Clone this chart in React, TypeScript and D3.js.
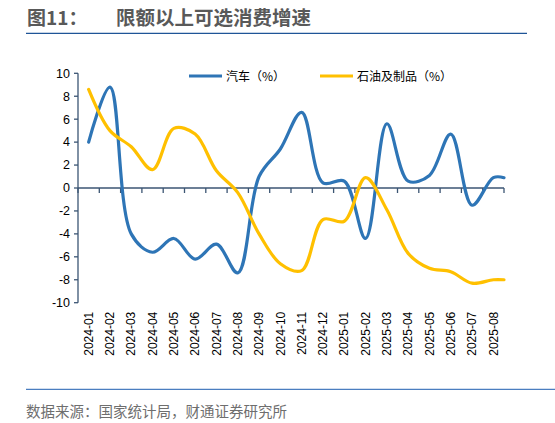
import { useEffect, useRef } from 'react';
import * as d3 from 'd3';

const months = [
  '2024-01', '2024-02', '2024-03', '2024-04', '2024-05', '2024-06', '2024-07', '2024-08',
  '2024-09', '2024-10', '2024-11', '2024-12', '2025-01', '2025-02', '2025-03', '2025-04',
  '2025-05', '2025-06', '2025-07', '2025-08',
];

// 汽车 (%)
const autoValues = [4.0, 8.8, -4.0, -5.6, -4.4, -6.2, -4.9, -7.4, 1.0, 3.4, 6.6, 0.45, 0.6, -4.4, 5.6, 0.6, 1.1, 4.7, -1.5, 0.9];
// 石油及制品 (%)
const oilValues = [8.6, 5.0, 3.6, 1.6, 5.2, 4.7, 1.5, -0.4, -4.0, -6.6, -7.2, -2.75, -2.9, 0.9, -1.9, -5.7, -7.0, -7.3, -8.3, -8.0];

const yTicks = [-10, -8, -6, -4, -2, 0, 2, 4, 6, 8, 10];

const seriesNames = ['汽车（%）', '石油及制品（%）'];
const colors = ['#2E75B6', '#FFC000'];

const FONT = "'Liberation Sans', Arial, 'Noto Sans CJK SC', sans-serif";
const CJK = "'Noto Sans CJK SC', sans-serif";

export default function App() {
  const svgRef = useRef<SVGSVGElement>(null);

  useEffect(() => {
    if (!svgRef.current) return;
    const width = 555;
    const height = 423;
    const svg = d3.select(svgRef.current).attr('width', width).attr('height', height);
    svg.selectAll('*').remove();

    const plot = { left: 78, right: 504, top: 73.3, bottom: 302.7 };

    const x = d3.scaleBand().domain(months).range([plot.left, plot.right]).padding(0);
    const y = d3.scaleLinear().domain([-10, 10]).range([plot.bottom, plot.top]);
    const axisColor = '#3B5573';

    // Title
    svg.append('text')
      .attr('x', 27).attr('y', 25)
      .style('font-family', CJK).style('font-weight', 'bold').style('font-size', '19px')
      .attr('fill', '#595959').text('图11：');
    svg.append('text')
      .attr('x', 116).attr('y', 25)
      .style('font-family', CJK).style('font-weight', 'bold').style('font-size', '19.5px')
      .attr('fill', '#595959').text('限额以上可选消费增速');
    svg.append('line')
      .attr('x1', 26).attr('x2', 527).attr('y1', 33.3).attr('y2', 33.3)
      .attr('stroke', '#1F5597').attr('stroke-width', 1.3);

    // Y axis
    const yAxis = svg.append('g');
    yAxis.append('line')
      .attr('x1', plot.left).attr('x2', plot.left)
      .attr('y1', y(10)).attr('y2', y(-10))
      .attr('stroke', axisColor).attr('stroke-width', 1.3);
    yTicks.forEach((t) => {
      yAxis.append('line')
        .attr('x1', plot.left - 4).attr('x2', plot.left)
        .attr('y1', y(t)).attr('y2', y(t))
        .attr('stroke', axisColor).attr('stroke-width', 1.3);
      yAxis.append('text')
        .attr('x', plot.left - 8).attr('y', y(t)).attr('dy', '0.35em')
        .attr('text-anchor', 'end')
        .style('font-family', FONT).style('font-size', '12.5px')
        .attr('fill', '#000').text(t);
    });

    // X axis along zero
    const xAxis = svg.append('g');
    xAxis.append('line')
      .attr('x1', plot.left).attr('x2', plot.right)
      .attr('y1', y(0)).attr('y2', y(0))
      .attr('stroke', axisColor).attr('stroke-width', 1.3);
    const tickXs = months.map((m) => x(m) as number).concat([plot.right]);
    tickXs.forEach((tx) => {
      xAxis.append('line')
        .attr('x1', tx).attr('x2', tx)
        .attr('y1', y(0)).attr('y2', y(0) + 5)
        .attr('stroke', axisColor).attr('stroke-width', 1.3);
    });
    months.forEach((m) => {
      const cx = (x(m) as number) + x.bandwidth() / 2;
      xAxis.append('text')
        .attr('transform', `translate(${cx},${plot.bottom + 9}) rotate(-90)`)
        .attr('dy', '0.35em')
        .attr('text-anchor', 'end')
        .style('font-family', FONT).style('font-size', '12px')
        .attr('fill', '#000').text(m);
    });

    // Lines
    const line = d3.line<[number, number]>()
      .x((d) => d[0]).y((d) => d[1])
      .curve(d3.curveCatmullRom.alpha(0.5));

    [autoValues, oilValues].forEach((vals, i) => {
      const pts: [number, number][] = vals.map((v, j) => [
        (x(months[j]) as number) + x.bandwidth() / 2,
        y(v),
      ]);
      // line runs flat to the end of the axis
      pts.push([plot.right, y(vals[vals.length - 1])]);
      svg.append('path')
        .attr('d', line(pts))
        .attr('fill', 'none')
        .attr('stroke', colors[i])
        .attr('stroke-width', 3.2)
        .attr('stroke-linejoin', 'round')
        .attr('stroke-linecap', 'round');
    });

    // Legend
    const legendX = [189, 320];
    seriesNames.forEach((name, i) => {
      const g = svg.append('g').attr('transform', `translate(${legendX[i]},76)`);
      g.append('line')
        .attr('x1', 0).attr('x2', 33).attr('y1', 0).attr('y2', 0)
        .attr('stroke', colors[i]).attr('stroke-width', 3.2);
      g.append('text')
        .attr('x', 37).attr('y', 0).attr('dy', '0.38em')
        .style('font-family', CJK).style('font-size', '12px')
        .attr('fill', '#000').text(name);
    });

    // Source
    svg.append('line')
      .attr('x1', 26).attr('x2', 555).attr('y1', 389.3).attr('y2', 389.3)
      .attr('stroke', '#4A7EC0').attr('stroke-width', 1.3);
    svg.append('text')
      .attr('x', 26).attr('y', 417)
      .style('font-family', CJK).style('font-size', '14.5px')
      .attr('fill', '#6E6E6E').text('数据来源：国家统计局，财通证券研究所');
  }, []);

  return (
    <svg
      ref={svgRef}
      style={{ position: 'absolute', left: 0, top: 0, display: 'block', background: '#fff' }}
    />
  );
}
